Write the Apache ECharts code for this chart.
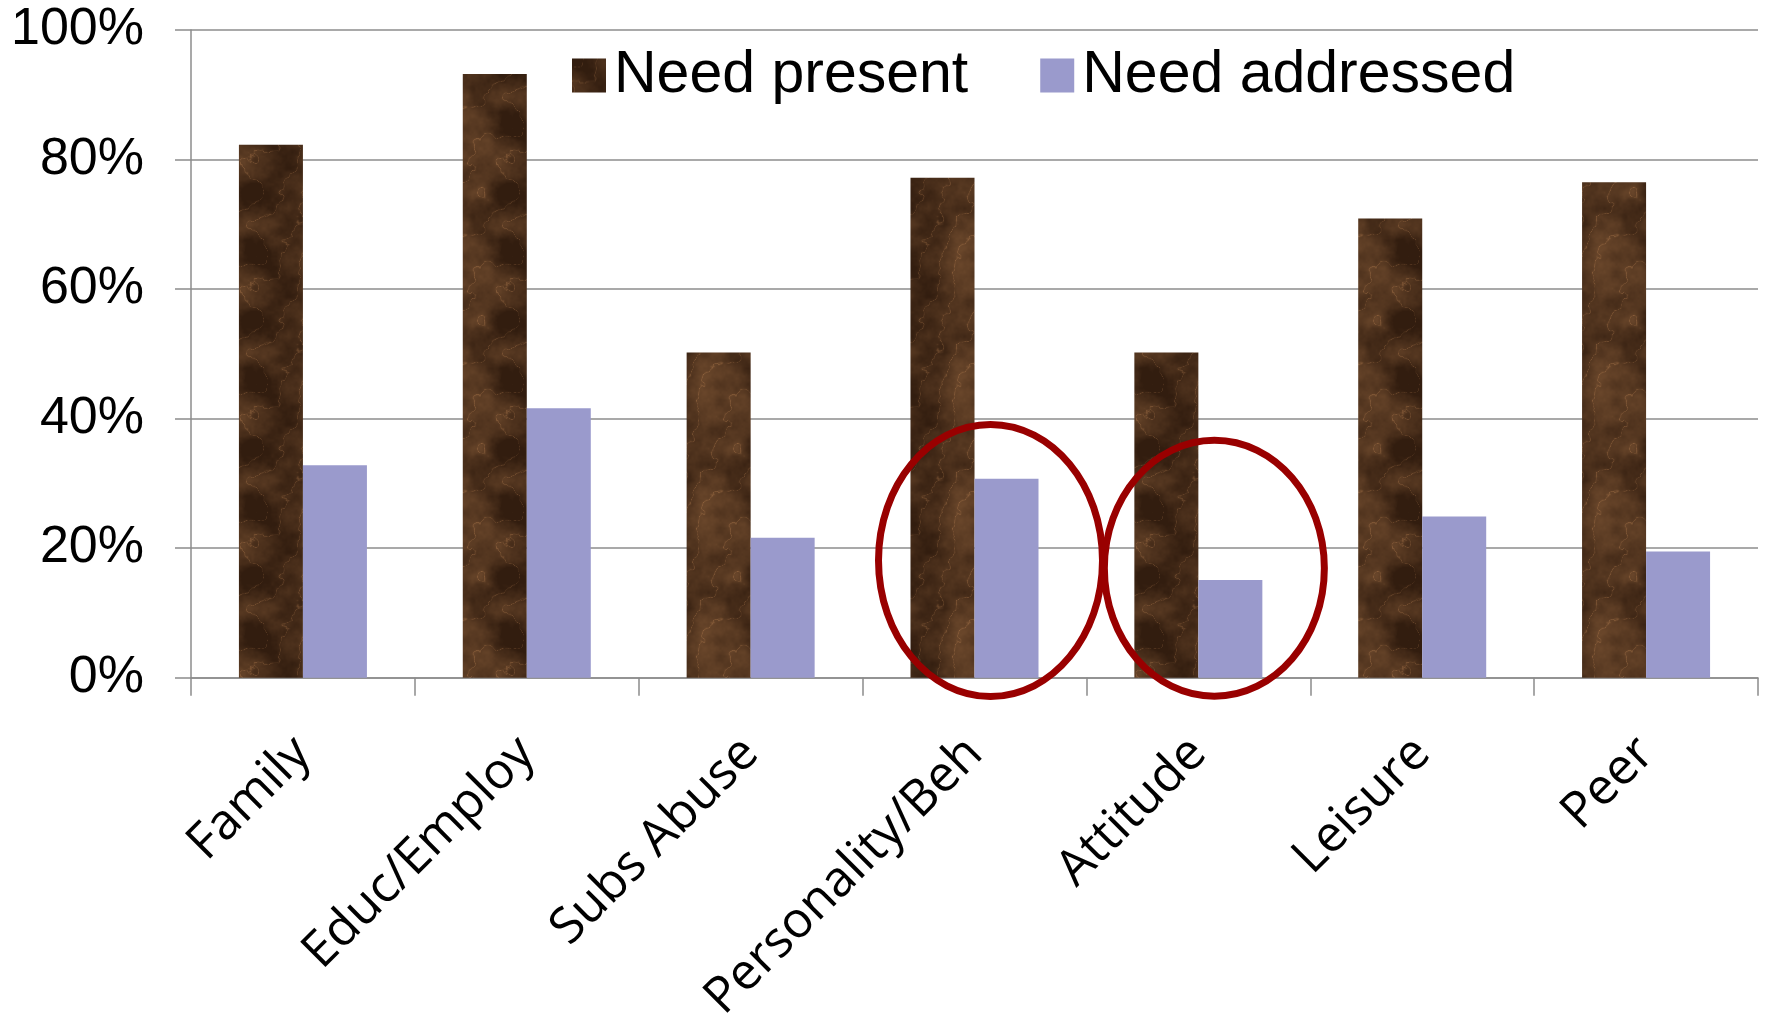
<!DOCTYPE html>
<html>
<head>
<meta charset="utf-8">
<script src="https://cdn.jsdelivr.net/npm/echarts@6/dist/echarts.min.js"></script>
<style>
  html, body { margin: 0; padding: 0; background: #fff; }
  #chart { width: 1766px; height: 1026px; }
</style>
</head>
<body>
<div id="chart"></div>
<script>
// Criminogenic need domains and share of cases (%)
const categories = ['Family', 'Educ/Employ', 'Subs Abuse', 'Personality/Beh', 'Attitude', 'Leisure', 'Peer'];
const needPresent = [82.3, 93.2, 50.2, 77.2, 50.2, 70.9, 76.5];
const needAddressed = [32.8, 41.6, 21.6, 30.7, 15.1, 24.9, 19.5];
const seriesNames = ['Need present', 'Need addressed'];

// Value axis ticks
const yMin = 0, yMax = 100, yStep = 20;

// Domains singled out with a ring: [category index, ring centre value]
const highlighted = [[3, 18.1], [4, 16.9]];
// Ring radii in pixels, one pair per highlighted domain
const ringRadii = [[112, 136], [110, 128]];

// Seamless marbled brown fill for the "Need present" bars (periodic value noise)
function marbleTexture() {
  const S = 128;
  const cv = document.createElement('canvas');
  cv.width = S; cv.height = S;
  const ctx = cv.getContext('2d');
  const img = ctx.createImageData(S, S);
  const hash = (x, y) => {
    const s = Math.sin(x * 127.1 + y * 311.7) * 43758.5453;
    return s - Math.floor(s);
  };
  const smooth = t => t * t * (3 - 2 * t);
  const mod = (a, p) => ((a % p) + p) % p;
  const noise = (x, y, p) => {
    const xi = Math.floor(x), yi = Math.floor(y);
    const xf = smooth(x - xi), yf = smooth(y - yi);
    const x0 = mod(xi, p), x1 = mod(xi + 1, p), y0 = mod(yi, p), y1 = mod(yi + 1, p);
    const a = hash(x0, y0), b = hash(x1, y0), c = hash(x0, y1), d = hash(x1, y1);
    return a + (b - a) * xf + (c - a) * yf + (a - b - c + d) * xf * yf;
  };
  for (let y = 0; y < S; y++) {
    for (let x = 0; x < S; x++) {
      let n = 0, amp = 0.5, cell = 32;
      for (let o = 0; o < 5; o++) {
        n += amp * noise(x / cell, y / cell, S / cell);
        amp *= 0.5; cell /= 2;
      }
      const ph = 2 * Math.PI * (2 * x / S + y / S) + n * 9;
      const vein = Math.pow(1 - Math.abs(Math.sin(ph)), 14) * 0.35;
      const t = Math.min(1, Math.max(0, (n - 0.3) * 1.1 + vein));
      const i = (y * S + x) * 4;
      img.data[i] = 50 + t * 105;
      img.data[i + 1] = 29 + t * 78;
      img.data[i + 2] = 15 + t * 52;
      img.data[i + 3] = 255;
    }
  }
  ctx.putImageData(img, 0, 0);
  return cv;
}

const chart = echarts.init(document.getElementById('chart'), null, { renderer: 'canvas' });
const brownFill = { image: marbleTexture(), repeat: 'repeat' };
const gridGray = '#8c8c8c';

chart.setOption({
  animation: false,
  backgroundColor: '#ffffff',
  grid: { left: 191, right: 8, top: 30, bottom: 345, containLabel: false },
  legend: {
    data: seriesNames,
    left: 567,
    top: 41,
    itemWidth: 34,
    itemHeight: 34,
    itemGap: 72,
    icon: 'rect',
    textStyle: {
      fontFamily: 'Liberation Sans, Arial, sans-serif',
      fontSize: 59,
      color: '#000',
      lineHeight: 59,
      padding: [0, 0, 0, 3]
    }
  },
  xAxis: {
    type: 'category',
    data: categories,
    boundaryGap: true,
    axisLine: { show: true, lineStyle: { color: gridGray, width: 1.5 } },
    axisTick: { show: true, length: 18, interval: 0, lineStyle: { color: gridGray, width: 1.5 } },
    axisLabel: {
      interval: 0,
      rotate: 45,
      margin: 68,
      fontFamily: 'Open Sans, sans-serif',
      fontSize: 50,
      color: '#000'
    }
  },
  yAxis: {
    type: 'value',
    min: yMin,
    max: yMax,
    interval: yStep,
    axisLine: { show: true, lineStyle: { color: gridGray, width: 1.5 } },
    axisTick: { show: true, length: 16, lineStyle: { color: gridGray, width: 1.5 } },
    splitLine: { show: true, lineStyle: { color: gridGray, width: 1.5 } },
    axisLabel: {
      formatter: '{value}%',
      margin: 47,
      fontFamily: 'Liberation Sans, Arial, sans-serif',
      fontSize: 52,
      color: '#000'
    }
  },
  series: [
    {
      name: seriesNames[0],
      type: 'bar',
      data: needPresent,
      barWidth: 64,
      barGap: '0%',
      itemStyle: { color: brownFill }
    },
    {
      name: seriesNames[1],
      type: 'bar',
      data: needAddressed,
      barWidth: 64,
      barGap: '0%',
      itemStyle: { color: '#9a9acc' }
    },
    {
      name: 'rings',
      type: 'custom',
      data: highlighted,
      encode: { x: 0, y: 1 },
      silent: true,
      z: 10,
      renderItem: function (params, api) {
        const p = api.coord([api.value(0), api.value(1)]);
        const rr = ringRadii[params.dataIndex];
        return {
          type: 'ellipse',
          shape: { cx: p[0] + 16, cy: p[1], rx: rr[0], ry: rr[1] },
          style: { fill: 'none', stroke: '#990000', lineWidth: 7 }
        };
      }
    }
  ]
});
</script>
</body>
</html>
